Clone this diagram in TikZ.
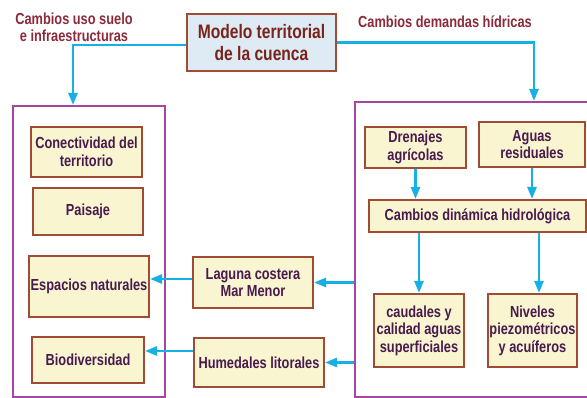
\documentclass[tikz,border=0pt]{standalone}
\usepackage{fontspec}
\setmainfont{Liberation Sans}[FakeStretch=0.8]
\usetikzlibrary{arrows.meta}
\definecolor{arrc}{RGB}{22,176,228}
\definecolor{bigc}{RGB}{165,70,165}
\definecolor{boxc}{RGB}{160,76,52}
\definecolor{boxf}{RGB}{248,245,208}
\definecolor{modf}{RGB}{222,234,244}
\definecolor{modt}{RGB}{120,36,26}
\definecolor{labt}{RGB}{138,42,58}
\definecolor{boxt}{RGB}{72,26,78}
\tikzset{
  bigbox/.style={draw=bigc, line width=2pt, fill=none, inner sep=0pt},
  ibox/.style={draw=boxc, line width=2pt, fill=boxf, inner sep=0pt, align=center,
    text=boxt, font=\fontsize{16}{17.5}\selectfont\bfseries},
  modbox/.style={draw=boxc, line width=2pt, fill=modf, inner sep=0pt, align=center,
    text=modt, font=\fontsize{19.5}{22.5}\selectfont\bfseries},
  lab/.style={inner sep=0pt, align=center, text=labt, font=\fontsize{16}{16.7}\selectfont\bfseries},
  arr/.style={draw=arrc, line width=2.5pt, -{Triangle[length=12pt,width=9pt]}}
}
\begin{document}
\begin{tikzpicture}[x=1pt,y=-1pt]
\useasboundingbox (0,0) rectangle (587,398);
% big frames
\node[bigbox, minimum width=152pt, minimum height=291pt] (bigL) at (89,251.5) {};
\node[bigbox, minimum width=245pt, minimum height=295pt] (bigR) at (477.5,249.5) {};
% top
\node[modbox, minimum width=149pt, minimum height=57pt] (model) at (261.5,42.5) {Modelo territorial\\de la cuenca};
\node[lab] (labL) at (74,27) {Cambios uso suelo\\e infraestructuras};
\node[lab] (labR) at (445,21.5) {Cambios demandas hídricas};
% left column
\node[ibox, minimum width=111pt, minimum height=50pt] (conn) at (86.5,152) {Conectividad del\\territorio};
\node[ibox, minimum width=110pt, minimum height=47pt] (pais) at (88,211.5) {Paisaje};
\node[ibox, minimum width=120pt, minimum height=61pt] (esp) at (89,286.5) {Espacios naturales};
\node[ibox, minimum width=112pt, minimum height=46pt] (bio) at (88,360) {Biodiversidad};
% middle
\node[ibox, minimum width=120pt, minimum height=51pt] (lag) at (253,282.5) {Laguna costera\\Mar Menor};
\node[ibox, minimum width=130pt, minimum height=49pt] (hum) at (259,362.5) {Humedales litorales};
% right
\node[ibox, minimum width=101pt, minimum height=41pt] (dren) at (415.5,147.5) {Drenajes\\agrícolas};
\node[ibox, minimum width=106pt, minimum height=45pt] (aguas) at (532,144.5) {Aguas\\residuales};
\node[ibox, minimum width=217pt, minimum height=32pt] (camb) at (477.5,216) {Cambios dinámica hidrológica};
\node[ibox, minimum width=90pt, minimum height=73pt] (caud) at (419,330.5) {caudales y\\calidad aguas\\superficiales};
\node[ibox, minimum width=89pt, minimum height=73pt] (niv) at (532.5,330.5) {Niveles\\piezométricos\\y acuíferos};
% coordinates for bends
\coordinate (cL) at (73,0);
\coordinate (cR) at (534,0);
\coordinate (mL) at ([yshift=-2.5pt]model.west);
% arrows
\draw[arr] (mL) -| (cL |- bigL.north);
\draw[arr] (model.east) -| (cR |- bigR.north);
\draw[arr] (dren.south) -- (dren.south |- camb.north);
\draw[arr] (aguas.south) -- (aguas.south |- camb.north);
\draw[arr] (caud.north |- camb.south) -- (caud.north);
\coordinate (nN) at ([xshift=6.5pt]niv.north);
\draw[arr] (nN |- camb.south) -- (nN);
\draw[arr] (bigR.west |- lag.east) -- (lag.east);
\coordinate (lW) at ([yshift=3.5pt]lag.west);
\draw[arr] (lW) -- (lW -| esp.east);
\draw[arr] (bigR.west |- hum.east) -- (hum.east);
\coordinate (hW) at ([yshift=11.5pt]hum.west);
\draw[arr] (hW) -- (hW -| bio.east);
\end{tikzpicture}
\end{document}
